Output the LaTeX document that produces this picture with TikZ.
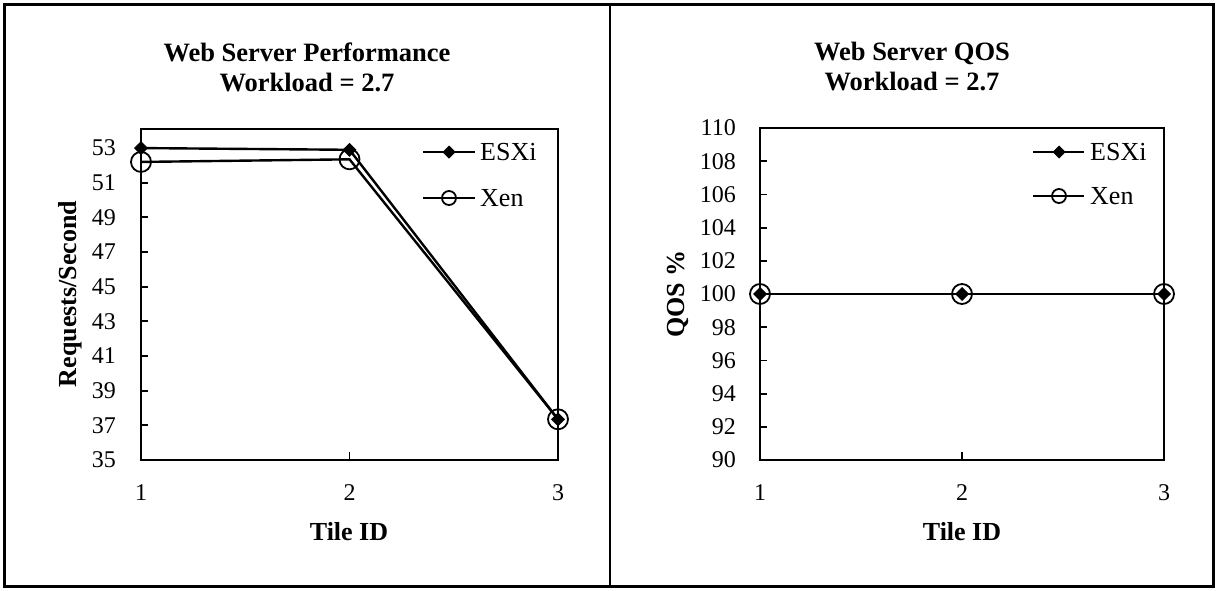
\documentclass[tikz,border=0pt]{standalone}
\usepackage{fontspec}
\setmainfont{Liberation Serif}
\usepackage{tikz}
\usetikzlibrary{%
  shapes.geometric,% diamond markers
  positioning%
}

\begin{document}
\begin{tikzpicture}[x=1pt,y=-1pt,line width=2.4pt,
    frame/.style={line width=2.4pt},
    tickmark/.style={line width=1.8pt},
    ticklabel/.style={inner sep=0pt, font=\fontsize{24}{24}\selectfont},
    axislabel/.style={inner sep=0pt, font=\bfseries\fontsize{26}{26}\selectfont},
    plottitle/.style={align=center, inner sep=0pt, font=\bfseries\fontsize{26.5}{30}\selectfont},
    legendtext/.style={anchor=west, inner sep=0pt, font=\fontsize{26}{26}\selectfont},
    series/.style={line width=2.4pt},
    esxi/.style={diamond, fill=black, inner sep=0pt, minimum size=15pt},
    xen/.style={circle, draw, line width=1.8pt, inner sep=0pt, minimum size=20pt},
    esxikey/.style={esxi, minimum size=14pt},
    xenkey/.style={xen, minimum size=14pt}]
    \useasboundingbox (0,0) rectangle (1217,590);
    % outer panels
    \draw[line width=2.8pt] (4.5,4.5) rectangle (1213.5,586.5);
    \draw[line width=2.8pt] (610,4.5) -- (610,586.5);

    %left chart: performance
    \node[plottitle] (perftitle) at (307,67) {Web Server Performance\\Workload = 2.7};
    \node[axislabel, rotate=90] (perfy) at (70,294) {Requests/Second};
    \node[axislabel] (perfx) at (349,532) {Tile ID};
    \begin{scope}[shift={(141,460)},x=208.5pt,y=17.33pt]
      \draw[frame] (0,0) rectangle (2,19.1);
      \foreach \v in {35,37,...,53} {
        \draw[tickmark] (0,\v-35) -- ([xshift=7pt]0,\v-35);
        \node[ticklabel, anchor=east] (perf-y\v) at ([xshift=-24pt]0,\v-35) {\v};
      }
      \draw[tickmark] (1,0) -- ([yshift=8pt]1,0);
      \foreach \t in {1,2,3}
        \node[ticklabel] (perf-x\t) at ([yshift=-33pt]\t-1,0) {\t};
      % data
      \coordinate (pe1) at (0,53.0-35);
      \coordinate (pe2) at (1,52.9-35);
      \coordinate (pe3) at (2,37.35-35);
      \coordinate (px1) at (0,52.2-35);
      \coordinate (px2) at (1,52.35-35);
      \coordinate (px3) at (2,37.35-35);
      \draw[series] (pe1) -- (pe2) -- (pe3);
      \draw[series] (px1) -- (px2) -- (px3);
      \foreach \t in {1,2,3} {
        \node[esxi] (pe\t-m) at (pe\t) {};
        \node[xen] (px\t-m) at (px\t) {};
      }
    \end{scope}
    % legend
    \coordinate (pkey-e-a) at (423,152);
    \coordinate (pkey-e-b) at (475,152);
    \coordinate (pkey-x-a) at (423,198);
    \coordinate (pkey-x-b) at (475,198);
    \draw[series] (pkey-e-a) -- (pkey-e-b);
    \draw[series] (pkey-x-a) -- (pkey-x-b);
    \node[esxikey] (pkey-e) at (449,152) {};
    \node[xenkey] (pkey-x) at (449,198) {};
    \node[legendtext] (pkey-etext) at (479,152) {ESXi};
    \node[legendtext] (pkey-xtext) at (479,198) {Xen};

    %right chart: QOS
    \node[plottitle] (qostitle) at (912,67) {Web Server QOS\\Workload = 2.7};
    \node[axislabel, rotate=90] (qosy) at (678,294) {QOS \%};
    \node[axislabel] (qosx) at (962,532) {Tile ID};
    \begin{scope}[shift={(760,460)},x=202pt,y=16.6pt]
      \draw[frame] (0,0) rectangle (2,20);
      \foreach \v in {90,92,...,110} {
        \draw[tickmark] (0,\v-90) -- ([xshift=7pt]0,\v-90);
        \node[ticklabel, anchor=east] (qos-y\v) at ([xshift=-23pt]0,\v-90) {\v};
      }
      \draw[tickmark] (1,0) -- ([yshift=8pt]1,0);
      \foreach \t in {1,2,3}
        \node[ticklabel] (qos-x\t) at ([yshift=-33pt]\t-1,0) {\t};
      % data
      \foreach \t in {1,2,3} {
        \coordinate (qe\t) at (\t-1,10);
        \coordinate (qx\t) at (\t-1,10);
      }
      \draw[series] (qe1) -- (qe2) -- (qe3);
      \draw[series] (qx1) -- (qx2) -- (qx3);
      \foreach \t in {1,2,3} {
        \node[esxi] (qe\t-m) at (qe\t) {};
        \node[xen] (qx\t-m) at (qx\t) {};
      }
    \end{scope}
    % legend
    \coordinate (qkey-e-a) at (1033,152);
    \coordinate (qkey-e-b) at (1084,152);
    \coordinate (qkey-x-a) at (1033,196);
    \coordinate (qkey-x-b) at (1084,196);
    \draw[series] (qkey-e-a) -- (qkey-e-b);
    \draw[series] (qkey-x-a) -- (qkey-x-b);
    \node[esxikey] (qkey-e) at (1059,152) {};
    \node[xenkey] (qkey-x) at (1059,196) {};
    \node[legendtext] (qkey-etext) at (1089,152) {ESXi};
    \node[legendtext] (qkey-xtext) at (1089,196) {Xen};
\end{tikzpicture}
\end{document}
